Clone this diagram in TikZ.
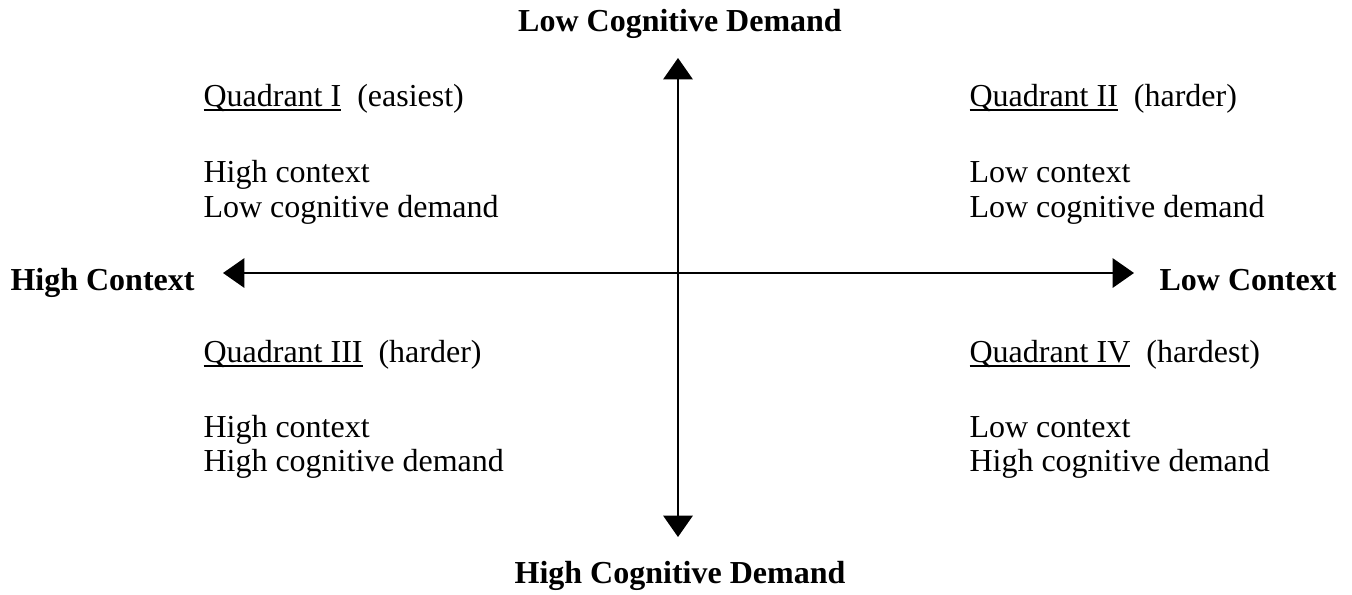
\documentclass[tikz,border=0pt]{standalone}
\usepackage{fontspec}
\setmainfont{Liberation Serif}
\usetikzlibrary{arrows.meta}
\newcommand\qul[1]{\setbox0\hbox{#1}\rlap{\rule[-1.9pt]{\wd0}{0.7pt}}\box0}
\begin{document}
\begin{tikzpicture}[x=0.375pt,y=-0.375pt,
  txt/.style={inner sep=0pt,anchor=base west,font=\fontsize{12}{14}\selectfont},
  lbl/.style={inner sep=0pt,anchor=base,font=\fontsize{12}{14}\selectfont\bfseries},
  axis/.style={line width=0.75pt,-{Triangle[length=8pt,width=11pt]}}]
\useasboundingbox (0,0) rectangle (1352,594);
% axes
\coordinate (c) at (678,273);
\coordinate (top) at (678,58);
\coordinate (bot) at (678,537);
\coordinate (lft) at (223,273);
\coordinate (rgt) at (1134,273);
\draw[axis] (c) -- (top);
\draw[axis] (c) -- (bot);
\draw[axis] (c) -- (lft);
\draw[axis] (c) -- (rgt);
% axis labels
\node[lbl] (lcd) at (680,31) {Low Cognitive Demand};
\node[lbl] (hcd) at (680,583) {High Cognitive Demand};
\node[lbl,anchor=base west] (hc) at (10,290) {High Context};
\node[lbl,anchor=base east] (lc) at (1337,290) {Low Context};
% quadrant I
\node[txt] (q1) at (203,106) {\qul{Quadrant I}\ \ (easiest)};
\node[txt] (q1a) at (203,182) {High context};
\node[txt] (q1b) at (203,217) {Low cognitive demand};
% quadrant II
\node[txt] (q2) at (969,106) {\qul{Quadrant II}\ \ (harder)};
\node[txt] (q2a) at (969,182) {Low context};
\node[txt] (q2b) at (969,217) {Low cognitive demand};
% quadrant III
\node[txt] (q3) at (203,362) {\qul{Quadrant III}\ \ (harder)};
\node[txt] (q3a) at (203,437) {High context};
\node[txt] (q3b) at (203,471) {High cognitive demand};
% quadrant IV
\node[txt] (q4) at (969,362) {\qul{Quadrant IV}\ \ (hardest)};
\node[txt] (q4a) at (969,437) {Low context};
\node[txt] (q4b) at (969,471) {High cognitive demand};
\end{tikzpicture}
\end{document}
